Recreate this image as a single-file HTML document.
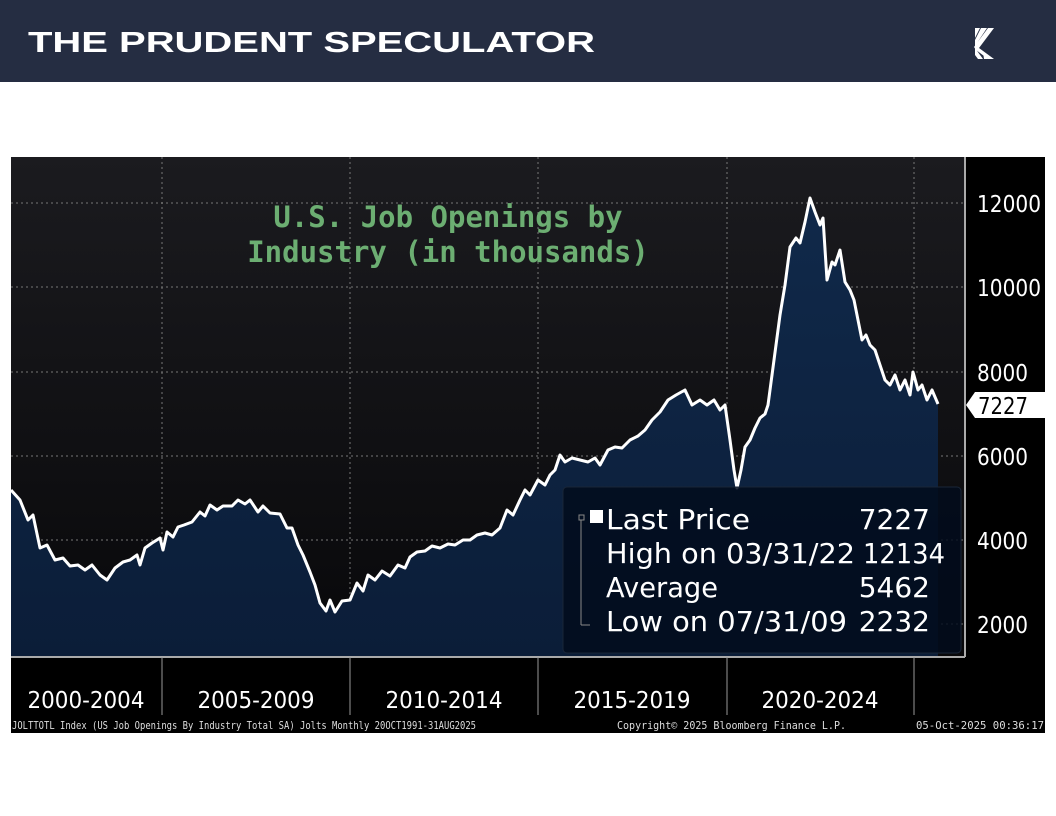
<!DOCTYPE html>
<html><head><meta charset="utf-8"><style>
html,body{margin:0;padding:0;background:#fff;width:1056px;height:816px;overflow:hidden}
svg{display:block}
</style></head><body>
<svg width="1056" height="816" viewBox="0 0 1056 816" xmlns="http://www.w3.org/2000/svg">
<defs>
<linearGradient id="bg" x1="0" y1="0" x2="0" y2="1"><stop offset="0" stop-color="#1b1b1f"/><stop offset="1" stop-color="#08080a"/></linearGradient>
<linearGradient id="ar" x1="0" y1="0" x2="0" y2="1"><stop offset="0" stop-color="#10294a"/><stop offset="1" stop-color="#0b1d38"/></linearGradient>
</defs>
<rect x="0" y="0" width="1056" height="82" fill="#252d42"/>
<text x="28" y="52" font-family="Liberation Sans, sans-serif" font-weight="bold" font-size="29" fill="#fff" textLength="567" lengthAdjust="spacingAndGlyphs">THE PRUDENT SPECULATOR</text>
<g fill="#fff"><path d="M975 28h5l-5 10zM981 28h6l-12 18v-6zM988 28h6l-15 20 15 11h-6l-12-9 -2-3z"/><path d="M975 48l8 11h-5l-3-4zM983 52l5 7h-4z"/></g>
<rect x="11" y="157" width="1034" height="576" fill="#000"/>
<rect x="11" y="157" width="954" height="500" fill="url(#bg)"/>
<g stroke="#777" stroke-dasharray="2,3" stroke-width="1">
<line x1="11" x2="965" y1="203" y2="203"/><line x1="11" x2="965" y1="287" y2="287"/><line x1="11" x2="965" y1="372" y2="372"/><line x1="11" x2="965" y1="456" y2="456"/><line x1="11" x2="965" y1="540" y2="540"/><line x1="11" x2="965" y1="624" y2="624"/>
<line x1="162" x2="162" y1="157" y2="657"/><line x1="350" x2="350" y1="157" y2="657"/><line x1="538" x2="538" y1="157" y2="657"/><line x1="727" x2="727" y1="157" y2="657"/><line x1="914" x2="914" y1="157" y2="657"/>
</g>
<polygon fill="url(#ar)" points="11,490 20,500 28,520 33,515 40,548 47,545 55,560 63,558 70,566 78,565 85,570 92,565 100,575 107,580 115,568 123,562 130,560 137,555 140,565 145,548 152,543 160,538 163,550 167,532 173,537 178,527 184,525 192,522 200,512 205,516 210,505 217,510 223,506 232,506 238,500 245,504 250,500 258,512 263,506 270,513 280,514 287,528 292,528 298,545 303,555 310,572 315,585 320,603 326,611 330,600 335,612 342,601 350,600 357,583 363,591 368,575 375,580 382,571 390,576 398,565 405,568 410,557 417,552 425,551 432,546 440,548 448,544 455,545 463,540 470,540 477,535 485,533 492,535 500,528 507,510 513,515 520,500 525,490 530,495 538,480 545,485 550,475 555,470 560,455 565,462 572,458 580,460 588,462 595,458 600,465 608,450 615,447 622,448 630,440 638,436 645,430 652,420 660,412 668,400 676,395 685,390 692,405 700,400 707,405 714,400 720,410 725,405 730,440 734,470 737,488 741,470 745,447 750,440 755,428 760,418 765,414 768,405 772,375 776,345 780,315 785,285 790,247 796,238 800,243 805,222 810,198 815,212 820,225 823,218 827,280 832,262 835,265 840,250 845,282 850,290 854,300 858,320 862,340 866,335 870,345 875,350 880,365 885,380 890,385 895,375 900,390 905,380 910,395 913,372 918,390 922,385 927,400 932,390 938,404 938,657 11,657"/>
<polyline fill="none" stroke="#fff" stroke-width="3" stroke-linejoin="round" points="11,490 20,500 28,520 33,515 40,548 47,545 55,560 63,558 70,566 78,565 85,570 92,565 100,575 107,580 115,568 123,562 130,560 137,555 140,565 145,548 152,543 160,538 163,550 167,532 173,537 178,527 184,525 192,522 200,512 205,516 210,505 217,510 223,506 232,506 238,500 245,504 250,500 258,512 263,506 270,513 280,514 287,528 292,528 298,545 303,555 310,572 315,585 320,603 326,611 330,600 335,612 342,601 350,600 357,583 363,591 368,575 375,580 382,571 390,576 398,565 405,568 410,557 417,552 425,551 432,546 440,548 448,544 455,545 463,540 470,540 477,535 485,533 492,535 500,528 507,510 513,515 520,500 525,490 530,495 538,480 545,485 550,475 555,470 560,455 565,462 572,458 580,460 588,462 595,458 600,465 608,450 615,447 622,448 630,440 638,436 645,430 652,420 660,412 668,400 676,395 685,390 692,405 700,400 707,405 714,400 720,410 725,405 730,440 734,470 737,488 741,470 745,447 750,440 755,428 760,418 765,414 768,405 772,375 776,345 780,315 785,285 790,247 796,238 800,243 805,222 810,198 815,212 820,225 823,218 827,280 832,262 835,265 840,250 845,282 850,290 854,300 858,320 862,340 866,335 870,345 875,350 880,365 885,380 890,385 895,375 900,390 905,380 910,395 913,372 918,390 922,385 927,400 932,390 938,404"/>
<text font-family="DejaVu Sans Mono, Liberation Mono, monospace" font-weight="bold" font-size="29" fill="#6cae72" text-anchor="middle"><tspan x="448" y="227">U.S. Job Openings by</tspan><tspan x="448" y="262">Industry (in thousands)</tspan></text>
<rect x="563" y="487" width="398" height="166" rx="4" fill="#020c1c" fill-opacity="0.85" stroke="#1a2638"/>
<g font-family="DejaVu Sans, Liberation Sans, sans-serif" font-size="28" fill="#fff">
<rect x="590" y="510" width="13" height="13"/>
<text x="606" y="529" textLength="144" lengthAdjust="spacingAndGlyphs">Last Price</text><text x="930" y="529" text-anchor="end">7227</text>
<text x="606" y="563" textLength="249" lengthAdjust="spacingAndGlyphs">High on 03/31/22</text><text x="945" y="563" text-anchor="end" textLength="82" lengthAdjust="spacingAndGlyphs">12134</text>
<text x="606" y="597" textLength="112" lengthAdjust="spacingAndGlyphs">Average</text><text x="930" y="597" text-anchor="end">5462</text>
<text x="606" y="631" textLength="241" lengthAdjust="spacingAndGlyphs">Low on 07/31/09</text><text x="930" y="631" text-anchor="end">2232</text>
</g>
<g stroke="#888" fill="none" stroke-width="1"><rect x="579" y="515" width="5" height="5"/><line x1="581" y1="520" x2="581" y2="625"/><line x1="581" y1="625" x2="590" y2="625"/></g>
<line x1="965" y1="157" x2="965" y2="657" stroke="#aaa" stroke-width="2"/>
<line x1="11" y1="657" x2="965" y2="657" stroke="#aaa" stroke-width="2"/>
<g stroke="#999" stroke-width="1"><line x1="162" y1="657" x2="162" y2="715"/><line x1="350" y1="657" x2="350" y2="715"/><line x1="538" y1="657" x2="538" y2="715"/><line x1="727" y1="657" x2="727" y2="715"/><line x1="914" y1="657" x2="914" y2="715"/></g>
<g font-family="DejaVu Sans, Liberation Sans, sans-serif" font-size="23" fill="#fff">
<text x="977" y="212" textLength="64" lengthAdjust="spacingAndGlyphs">12000</text><text x="977" y="296" textLength="64" lengthAdjust="spacingAndGlyphs">10000</text><text x="977" y="381" textLength="51" lengthAdjust="spacingAndGlyphs">8000</text><text x="977" y="465" textLength="51" lengthAdjust="spacingAndGlyphs">6000</text><text x="977" y="549" textLength="51" lengthAdjust="spacingAndGlyphs">4000</text><text x="977" y="633" textLength="51" lengthAdjust="spacingAndGlyphs">2000</text>
</g>
<g font-family="DejaVu Sans, Liberation Sans, sans-serif" font-size="23" fill="#fff" text-anchor="middle">
<text x="86" y="708" textLength="117" lengthAdjust="spacingAndGlyphs">2000-2004</text><text x="256" y="708" textLength="117" lengthAdjust="spacingAndGlyphs">2005-2009</text><text x="444" y="708" textLength="117" lengthAdjust="spacingAndGlyphs">2010-2014</text><text x="632" y="708" textLength="117" lengthAdjust="spacingAndGlyphs">2015-2019</text><text x="820" y="708" textLength="117" lengthAdjust="spacingAndGlyphs">2020-2024</text>
</g>
<polygon points="966,405 975,392 1056,392 1056,418 975,418" fill="#fff"/>
<text x="978" y="414" font-family="DejaVu Sans, Liberation Sans, sans-serif" font-size="23" fill="#000" textLength="50" lengthAdjust="spacingAndGlyphs">7227</text>
<g font-family="DejaVu Sans Mono, Liberation Mono, monospace" font-size="10.5" fill="#ddd">
<text x="12" y="729" textLength="464" lengthAdjust="spacingAndGlyphs">JOLTTOTL Index (US Job Openings By Industry Total SA) Jolts Monthly 20OCT1991-31AUG2025</text>
<text x="617" y="729" textLength="229" lengthAdjust="spacingAndGlyphs">Copyright© 2025 Bloomberg Finance L.P.</text>
<text x="916" y="729" textLength="128" lengthAdjust="spacingAndGlyphs">05-Oct-2025 00:36:17</text>
</g>
</svg>
</body></html>
